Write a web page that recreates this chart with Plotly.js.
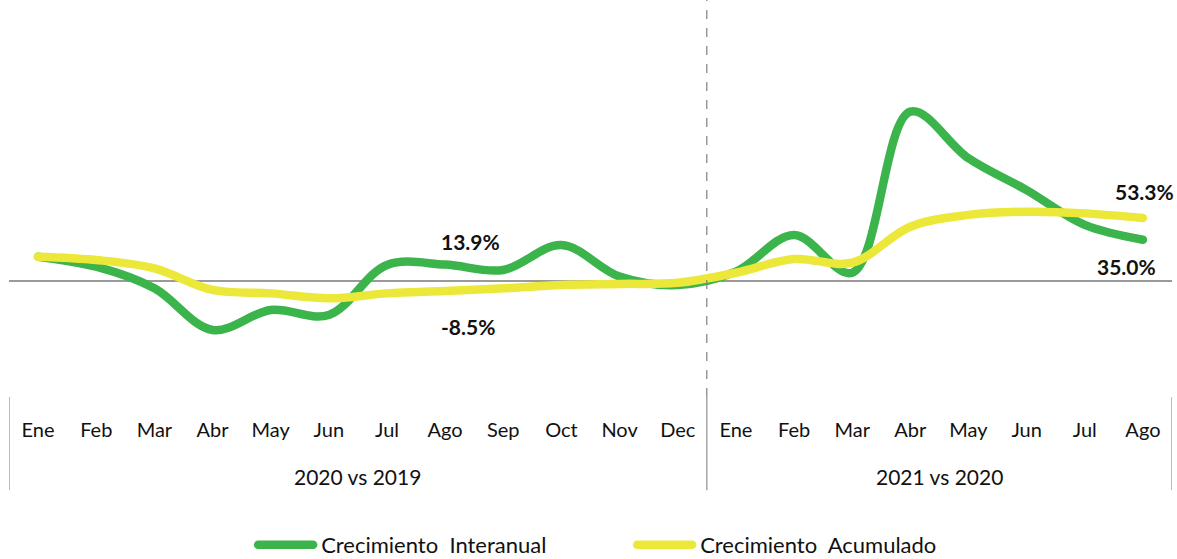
<!DOCTYPE html>
<html>
<head>
<meta charset="utf-8">
<script src="https://cdn.plot.ly/plotly-3.0.1.min.js"></script>
<style>
html,body{margin:0;padding:0;background:#fff;}
#chart{width:1177px;height:559px;}
.scatterlayer path.js-line{stroke-linecap:round;}
</style>
</head>
<body>
<div id="chart"></div>
<script>
// Categories (two periods: 2020 vs 2019, 2021 vs 2020)
const months = ["Ene","Feb","Mar","Abr","May","Jun","Jul","Ago","Sep","Oct","Nov","Dec",
                "Ene","Feb","Mar","Abr","May","Jun","Jul","Ago"];
const groups = ["2020 vs 2019","2021 vs 2020"];
const groupCenters = [5.5, 15.5];
const groupEdges = [-0.5, 11.5, 19.5];

// Series values (%)
const interanual = [20.6, 12.1, -6.2, -41.5, -24.6, -28.8, 13.6, 13.9, 9.3, 30.5, 3.7, -3.4,
                    7.9, 39.0, 7.0, 143.5, 104.0, 77.0, 47.5, 35.0];
const acumulado  = [20.6, 17.8, 10.7, -7.6, -10.5, -14.7, -10.5, -8.5, -6.2, -3.4, -2.5, -1.5,
                    7.0, 18.6, 15.5, 46.0, 56.0, 58.7, 57.3, 53.3];

const seriesNames = ["Crecimiento\u00a0 Interanual","Crecimiento\u00a0 Acumulado"];
const xIdx = months.map((m,i)=>i);

const green = "#3bb44b";
const yellow = "#ebe83a";
const FONT = "Lato, 'Open Sans', sans-serif";

const traces = [
  {x:xIdx, y:interanual, name:seriesNames[0], type:"scatter", mode:"lines",
   line:{color:green, width:8.5, shape:"spline", smoothing:1}, hoverinfo:"skip"},
  {x:xIdx, y:acumulado, name:seriesNames[1], type:"scatter", mode:"lines",
   line:{color:yellow, width:8.5, shape:"spline", smoothing:1}, hoverinfo:"skip"}
];

const ann = [];
// value labels
const labelFont = {family:FONT, size:21, color:"#111", weight:"bold"};
ann.push({x:7, y:interanual[7], text:interanual[7].toFixed(1)+"%", showarrow:false, yshift:23, xshift:25, font:labelFont});
ann.push({x:7, y:acumulado[7], text:acumulado[7].toFixed(1)+"%", showarrow:false, yshift:-35, xshift:23, font:labelFont});
ann.push({x:19, y:acumulado[19], text:acumulado[19].toFixed(1)+"%", showarrow:false, yshift:27, xshift:2, font:labelFont});
ann.push({x:19, y:interanual[19], text:interanual[19].toFixed(1)+"%", showarrow:false, yshift:-27, xshift:-16, font:labelFont});
// group labels
groups.forEach((g,i)=>{
  ann.push({x:groupCenters[i], xref:"x", y:-0.2, yref:"paper", yanchor:"middle", text:g, showarrow:false,
            font:{family:FONT, size:21, color:"#111"}});
});

const shapes = [];
groupEdges.forEach(e=>{
  shapes.push({type:"line", xref:"x", yref:"paper", x0:e, x1:e, y0:0, y1:-0.235,
               line:{color:"#a6a6a6", width:1.5}});
});
shapes.push({type:"line", xref:"x", yref:"paper", x0:11.5, x1:11.5, y0:0, y1:1.02,
             line:{color:"#7f7f7f", width:1.2, dash:"dash"}});

const layout = {
  width:1177, height:559,
  margin:{l:9, r:5, t:0, b:162, autoexpand:false},
  paper_bgcolor:"#fff", plot_bgcolor:"#fff",
  font:{family:FONT, size:20, color:"#111"},
  showlegend:true,
  legend:{orientation:"h", x:0.234, xanchor:"left", yref:"container", y:0.025, yanchor:"middle",
          font:{family:FONT, size:22, color:"#111"}, entrywidth:334, traceorder:"normal"},
  xaxis:{range:[-0.5,19.5], tickmode:"array", tickvals:xIdx, ticktext:months,
         showgrid:false, zeroline:false, showline:false, ticks:"", ticklabelstandoff:19,
         tickfont:{family:FONT, size:20, color:"#111"}, fixedrange:true},
  yaxis:{range:[-98.3,238.1], showgrid:false, showticklabels:false, ticks:"",
         zeroline:true, zerolinecolor:"#9a9a9a", zerolinewidth:1.5, showline:false, fixedrange:true},
  annotations:ann,
  shapes:shapes
};

Plotly.newPlot("chart", traces, layout, {staticPlot:true, displayModeBar:false}).then(gd=>{
  // lengthen legend line samples to match the reference's long swatches
  gd.querySelectorAll(".legend [clip-path]").forEach(el=>el.removeAttribute("clip-path"));
  gd.querySelectorAll(".legend .legendlines path").forEach(p=>{
    p.setAttribute("d","M-23,0h55");
    p.style.strokeLinecap = "round";
  });
});
</script>
</body>
</html>
